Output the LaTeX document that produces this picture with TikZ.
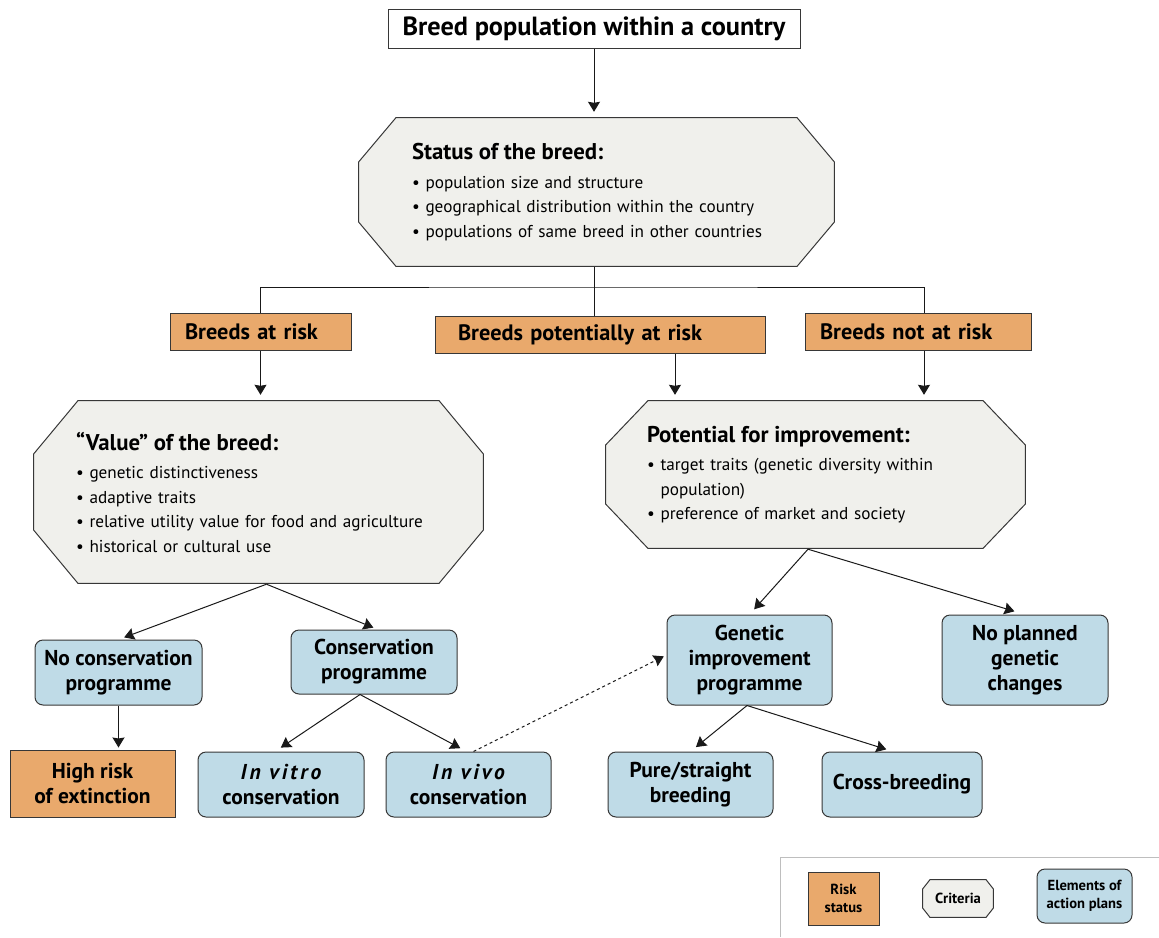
\documentclass[tikz,border=0pt]{standalone}
\usepackage{fontspec}
\setmainfont{PT Sans}
\usetikzlibrary{positioning,calc,arrows.meta}

\definecolor{riskorange}{RGB}{233,169,108}
\definecolor{planblue}{RGB}{191,219,231}
\definecolor{critgray}{RGB}{240,240,236}
\definecolor{edgegray}{RGB}{55,55,55}
\definecolor{keygray}{RGB}{190,190,190}

\newcommand{\ppb}{path picture bounding box}

\tikzset{
  chx/.store in=\chx, chy/.store in=\chy, chx=40pt, chy=45pt,
  riskbox/.style={draw=edgegray,fill=riskorange,line width=1pt,inner ysep=0pt,
    font=\bfseries\fontsize{22.3}{26}\selectfont},
  planbox/.style={draw=edgegray,fill=planblue,line width=1pt,rounded corners=8pt,
    align=center,inner sep=0pt,font=\bfseries\fontsize{21.5}{25}\selectfont},
  critbox/.style={inner sep=0pt,align=left,font=\fontsize{17.2}{24.5}\selectfont,
    path picture={
      \filldraw[fill=critgray,draw=edgegray,line width=1pt]
        ([shift={(\chx,-0.6pt)}]\ppb.north west) -- ([shift={(-\chx,-0.6pt)}]\ppb.north east)
        -- ([shift={(-0.6pt,-\chy)}]\ppb.north east) -- ([shift={(-0.6pt,\chy)}]\ppb.south east)
        -- ([shift={(-\chx,0.6pt)}]\ppb.south east) -- ([shift={(\chx,0.6pt)}]\ppb.south west)
        -- ([shift={(0.6pt,\chy)}]\ppb.south west) -- ([shift={(0.6pt,-\chy)}]\ppb.north west)
        -- cycle;}},
  keybox/.style={font=\bfseries\fontsize{14.6}{18}\selectfont},
  line/.style={draw=black!90,line width=1pt},
  link/.style={line,-{Stealth[length=10pt,width=12pt,inset=1pt]},shorten >=5pt}
}
\newcommand{\crithead}[1]{{\bfseries\fontsize{22.8}{26}\selectfont #1}}

\begin{document}
\begin{tikzpicture}[x=1pt,y=-1pt]
\useasboundingbox (0,0) rectangle (1159,937);

% top of the chart
\node[draw=edgegray,fill=white,line width=1pt,minimum width=412pt,minimum height=39pt,
  font=\bfseries\fontsize{26.3}{30}\selectfont] (title) at (594,28.5) {Breed population within a country};
\node[critbox,chx=38pt,chy=45pt,minimum width=477pt,minimum height=150pt,text width=369pt] (status) at (596.5,192)
  {\crithead{Status of the breed:}\\[4pt]
   \textbullet\ population size and structure\\
   \textbullet\ geographical distribution within the country\\
   \textbullet\ populations of same breed in other countries};

% risk status
\node[riskbox,minimum height=37pt,inner xsep=15pt,text width=151pt] (atrisk) at (260.5,331.5) {Breeds at risk};
\node[riskbox,minimum height=37pt,inner xsep=23pt,text width=284pt] (potrisk) at (600,334.5) {Breeds potentially at risk};
\node[riskbox,minimum height=37pt,inner xsep=15pt,text width=196pt] (notrisk) at (918,331.5) {Breeds not at risk};

% criteria
\node[critbox,chx=45pt,chy=54pt,minimum width=451pt,minimum height=184pt,text width=365pt] (value) at (258.5,492)
  {\crithead{“Value” of the breed:}\\[4pt]
   \textbullet\ genetic distinctiveness\\
   \textbullet\ adaptive traits\\
   \textbullet\ relative utility value for food and agriculture\\
   \textbullet\ historical or cultural use};
\node[critbox,chx=43pt,chy=45pt,minimum width=421pt,minimum height=149pt,text width=337pt] (potential) at (815.5,474.5)
  {\crithead{Potential for improvement:}\\[4pt]
   \textbullet\ target traits (genetic diversity within\\
   \phantom{\textbullet\ }population)\\
   \textbullet\ preference of market and society};

% action plans
\node[planbox,minimum width=167pt,minimum height=65pt] (noconsv) at (118.5,672.5) {No conservation\\programme};
\node[planbox,minimum width=166pt,minimum height=64pt] (consv) at (374,662) {Conservation\\programme};
\node[riskbox,align=center,minimum width=165pt,minimum height=67pt,
  font=\bfseries\fontsize{21.5}{25}\selectfont] (highrisk) at (92.5,783.5) {High risk\\of extinction};
\node[planbox,minimum width=166pt,minimum height=65pt] (invitro) at (281,784.5)
  {{\itshape\addfontfeature{LetterSpace=14}In vitro}\\conservation};
\node[planbox,minimum width=165pt,minimum height=65pt] (invivo) at (468.5,784.5)
  {{\itshape\addfontfeature{LetterSpace=14}In vivo}\\conservation};
\node[planbox,minimum width=165pt,minimum height=90pt] (genetic) at (749.5,660) {Genetic\\improvement\\programme};
\node[planbox,minimum width=166pt,minimum height=90pt] (noplan) at (1025,660) {No planned\\genetic\\changes};
\node[planbox,minimum width=165pt,minimum height=65pt] (pure) at (690.5,784.5) {Pure/straight\\breeding};
\node[planbox,minimum width=160pt,minimum height=65pt] (cross) at (902,784.5) {Cross-breeding};

% connectors
\coordinate (split) at (594,287);
\draw[link] (title) -- (title |- status.north);
\draw[line] (split |- status.south) -- (split);
\draw[line] (atrisk.north) |- (split) -| ([xshift=6pt]notrisk.north);
\draw[line] (split) -- (split |- potrisk.north);
\draw[link] (atrisk) -- (atrisk |- value.north);
\draw[link] ([xshift=75pt]potrisk.south) -- ([xshift=75pt]potrisk.south |- potential.north);
\draw[link] ([xshift=6pt]notrisk.south) -- ([xshift=6pt]notrisk.south |- potential.north);
\draw[link,shorten >=6pt] ([xshift=8pt]value.south) -- (noconsv.north);
\draw[link] ([xshift=8pt]value.south) -- ([xshift=4pt]consv.north);
\draw[link,shorten >=2pt] (noconsv) -- (noconsv |- highrisk.north);
\draw[link,shorten >=7pt] ([xshift=-14pt]consv.south) -- ([xshift=-6pt]invitro.north);
\draw[link,shorten >=7pt] ([xshift=-14pt]consv.south) -- ([xshift=-2pt]invivo.north);
\draw[link,dashed,shorten >=3pt] ([xshift=5pt]invivo.north) -- ([yshift=5pt]genetic.west);
\draw[link,shorten >=7pt] ([xshift=-7.5pt]potential.south) -- (genetic.north);
\draw[link,shorten >=11pt] ([xshift=-7.5pt]potential.south) -- (noplan.north);
\draw[link,shorten >=7pt] ([xshift=-2.5pt]genetic.south) -- (pure.north);
\draw[link,shorten >=7pt] ([xshift=-2.5pt]genetic.south) -- ([xshift=-9pt]cross.north);

% key
\draw[keygray,line width=1pt] (780,937) -- (780,857) -- (1159,857);
\node[riskbox,keybox,align=center,minimum width=71pt,minimum height=53pt,inner xsep=0pt] (riskkey) at (843.5,898.5) {Risk\\status};
\node[critbox,keybox,align=center,chx=8pt,chy=10pt,minimum width=72pt,minimum height=39pt] (critkey) at (958,898.5) {Criteria};
\node[planbox,keybox,minimum width=95pt,minimum height=54pt] (actkey) at (1084.5,896) {Elements of\\action plans};
\end{tikzpicture}
\end{document}
